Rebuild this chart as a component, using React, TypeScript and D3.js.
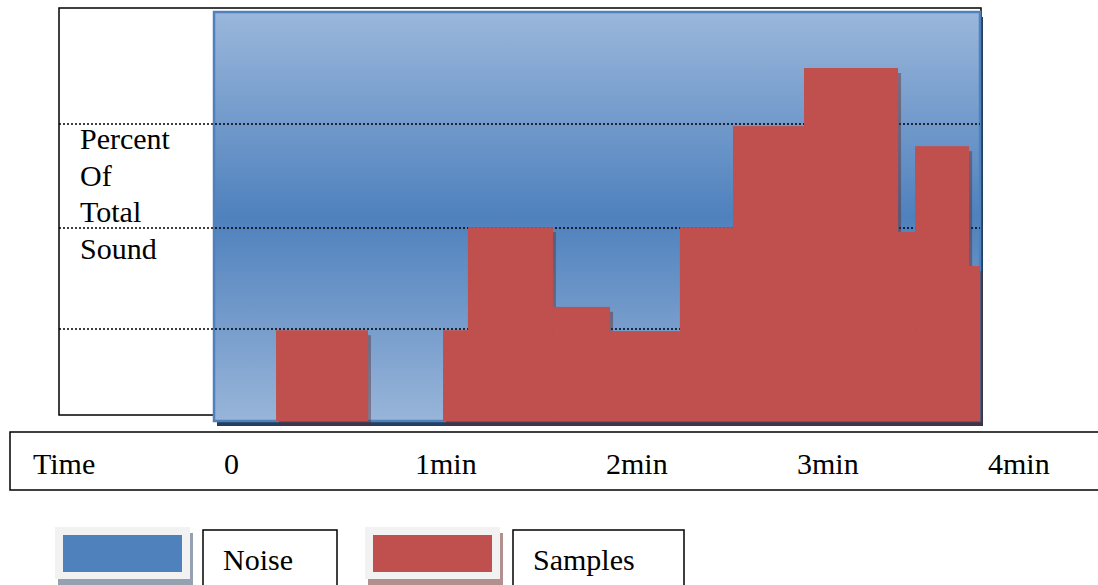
import React from 'react';
import * as d3 from 'd3';

// bins in minutes, heights in percent of total sound
const binStarts = [0.324, 1.196, 1.326, 1.77, 2.068, 2.433, 2.71, 3.081, 3.572, 3.661, 3.943];
const binEnds = [0.804, 1.326, 1.77, 2.068, 2.433, 2.71, 3.081, 3.572, 3.661, 3.943, 4.0];
const sampleValues = [22.2, 22.2, 47.4, 27.9, 22.0, 47.4, 72.1, 86.3, 46.2, 67.2, 37.9];
const gridValues = [22.5, 47.2, 72.6];
const timeLabels = ['Time', '0', '1min', '2min', '3min', '4min'];
const yLabelLines = ['Percent', 'Of', 'Total', 'Sound'];
const legendItems = ['Noise', 'Samples'];

const W = 1098;
const H = 585;
const FONT = '"Liberation Serif", "Times New Roman", serif';

const App: React.FC = () => {
  const plot = { left: 214, right: 980, top: 12, bottom: 421 };

  const xScale = d3.scaleLinear().domain([0, 4]).range([plot.left, plot.right]);
  const yScale = d3.scaleLinear().domain([0, 100]).range([plot.bottom, plot.top]);
  const labelScale = d3.scalePoint<string>().domain(timeLabels).range([33, 988]);
  const legendColor = d3.scaleOrdinal<string, string>().domain(legendItems).range(['#4f81bd', '#c0504d']);
  const legendShadow = d3.scaleOrdinal<string, string>().domain(legendItems).range(['#95a0b0', '#b39090']);
  const legendX = d3.scaleOrdinal<string, number>().domain(legendItems).range([55, 365]);
  const legendBoxW = d3.scaleOrdinal<string, number>().domain(legendItems).range([134, 171]);

  const bars = sampleValues.map((v, i) => ({ x0: binStarts[i], x1: binEnds[i], v }));

  return (
    <div>
      <style>{`body{margin:0}`}</style>
      <svg width={W} height={H} style={{ display: 'block' }}>
        <defs>
          <linearGradient id="noiseGrad" x1="0" y1="0" x2="0" y2="1">
            <stop offset="0%" stopColor="#9ab7db" />
            <stop offset="50%" stopColor="#4f81bd" />
            <stop offset="100%" stopColor="#98b5d9" />
          </linearGradient>
        </defs>

        {/* outer frame */}
        <rect x={59} y={8} width={922} height={407} fill="white" stroke="#000" strokeWidth={1.5} />

        {/* noise area */}
        <rect x={plot.left + 3} y={plot.top + 5} width={plot.right - plot.left} height={plot.bottom - plot.top} fill="#243f60" />
        <rect
          x={plot.left}
          y={plot.top}
          width={plot.right - plot.left}
          height={plot.bottom - plot.top}
          fill="url(#noiseGrad)"
          stroke="#4f81bd"
          strokeWidth={2.5}
        />

        {/* dotted gridlines */}
        {gridValues.map((g, i) => (
          <line
            key={i}
            x1={59}
            x2={plot.right}
            y1={yScale(g)}
            y2={yScale(g)}
            stroke="#000"
            strokeWidth={1.5}
            strokeDasharray="2,2"
          />
        ))}

        {/* sample shadows then bars */}
        {bars.map((b, i) => (
          <rect
            key={'s' + i}
            x={xScale(b.x0) + 3}
            y={yScale(b.v) + 5}
            width={xScale(b.x1) - xScale(b.x0)}
            height={yScale(0) - yScale(b.v)}
            fill="#622727"
            opacity={0.44}
          />
        ))}
        {bars.map((b, i) => (
          <rect
            key={'b' + i}
            x={xScale(b.x0)}
            y={yScale(b.v)}
            width={xScale(b.x1) - xScale(b.x0)}
            height={yScale(0) - yScale(b.v)}
            fill="#c0504d"
          />
        ))}

        {/* y label */}
        <text fontFamily={FONT} fontSize={30} fill="#000">
          {yLabelLines.map((t, i) => (
            <tspan key={i} x={80} y={149 + i * 36.7}>
              {t}
            </tspan>
          ))}
        </text>

        {/* time axis box */}
        <rect x={10} y={432} width={1100} height={58} fill="white" stroke="#000" strokeWidth={1.5} />
        {timeLabels.map((t) => (
          <text key={t} x={labelScale(t)} y={474} fontFamily={FONT} fontSize={30} fill="#000">
            {t}
          </text>
        ))}

        {/* legend */}
        {legendItems.map((k) => {
          const lx = legendX(k);
          return (
            <g key={k}>
              <rect x={lx + 3} y={533} width={135} height={52} fill={legendShadow(k)} />
              <rect x={lx} y={527} width={135} height={52} fill="#f2f2f2" />
              <rect x={lx + 8} y={535} width={119} height={37} fill={legendColor(k)} />
              <rect
                x={lx + 148}
                y={530}
                width={legendBoxW(k)}
                height={60}
                fill="white"
                stroke="#000"
                strokeWidth={1.5}
              />
              <text x={lx + 168} y={570} fontFamily={FONT} fontSize={30} fill="#000">
                {k}
              </text>
            </g>
          );
        })}
      </svg>
    </div>
  );
};

export default App;
